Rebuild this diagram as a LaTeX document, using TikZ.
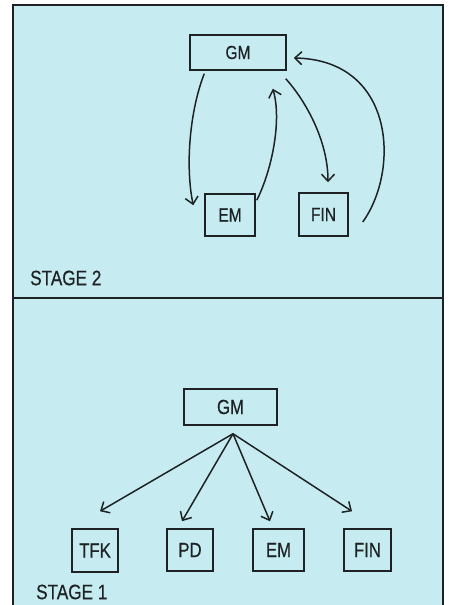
\documentclass[tikz,border=0pt]{standalone}
\usepackage{fontspec}
\setmainfont{Liberation Sans}[FakeStretch=0.82,FakeBold=0.5]
\usetikzlibrary{arrows.meta}
\definecolor{panelcol}{RGB}{198,236,241}
\definecolor{inkcol}{RGB}{30,34,36}

\begin{document}
\begin{tikzpicture}[x=1bp,y=-1bp,>={Straight Barb[length=7bp,width=13bp]},
  box/.style={draw=inkcol,line width=1.5bp,inner sep=0pt,text=inkcol,font=\fontsize{19}{19}\selectfont},
  boxlow/.style={box,font=\fontsize{20.5}{20.5}\selectfont},
  link/.style={draw=inkcol,line width=1.5bp,->},
  stagelbl/.style={anchor=west,inner sep=0pt,text=inkcol,font=\fontsize{21}{21}\selectfont}]
%%
\useasboundingbox (0,0) rectangle (449,605);
\fill[white] (0,0) rectangle (449,605);
\filldraw[fill=panelcol,draw=inkcol,line width=2bp] (13,5) rectangle (443,612);
\draw[inkcol,line width=2bp] (13,297.5) -- (443,297.5);
%% stage 2
  \node (gmB) at (238,52.5) [box,minimum width=96bp,minimum height=35bp] {GM};
  \node (emB) at (230,215) [box,minimum width=50bp,minimum height=42bp] {EM};
  \node (finB) at (323.5,214.5) [box,minimum width=49bp,minimum height=43bp] {FIN};
  \node (lblB) at (30,278) [stagelbl] {STAGE 2};
  \draw [link] ([shift={(15,3)}]gmB.south west) ..controls (190,110) and (185,165) .. ([shift={(-11,12)}]emB.north west);
  \draw [link] ([shift={(1,7)}]emB.north east) ..controls (272,170) and (282,120) .. ([shift={(-14,18)}]gmB.south east);
  \draw [link] ([shift={(-1,8)}]gmB.south east) ..controls (305,100) and (328,140) .. ([shift={(4.5,-10)}]finB.north);
  \draw [link] ([shift={(14,7.5)}]finB.east) ..controls (400,170) and (395,60) .. ([shift={(7,5.5)}]gmB.east);
%% stage 1
  \node (gmA) at (230.5,407) [boxlow,minimum width=93bp,minimum height=36bp] {GM};
  \node (tfkA) at (95,550.5) [boxlow,minimum width=46bp,minimum height=43bp] {TFK};
  \node (pdA) at (190,550) [boxlow,minimum width=46bp,minimum height=42bp] {PD};
  \node (emA) at (278.5,550) [boxlow,minimum width=51bp,minimum height=42bp] {EM};
  \node (finA) at (367.5,550) [boxlow,minimum width=47bp,minimum height=42bp] {FIN};
  \node (lblA) at (36,592) [stagelbl] {STAGE 1};
  \coordinate (hub) at ([shift={(2.5,8)}]gmA.south);
  \draw [link] (hub) -- ([shift={(5,-17)}]tfkA.north);
  \draw [link] (hub) -- ([shift={(-8,-7)}]pdA.north);
  \draw [link] (hub) -- ([shift={(-8.5,-7)}]emA.north);
  \draw [link] (hub) -- ([shift={(-15.5,-17)}]finA.north);
%
\end{tikzpicture}
\end{document}
